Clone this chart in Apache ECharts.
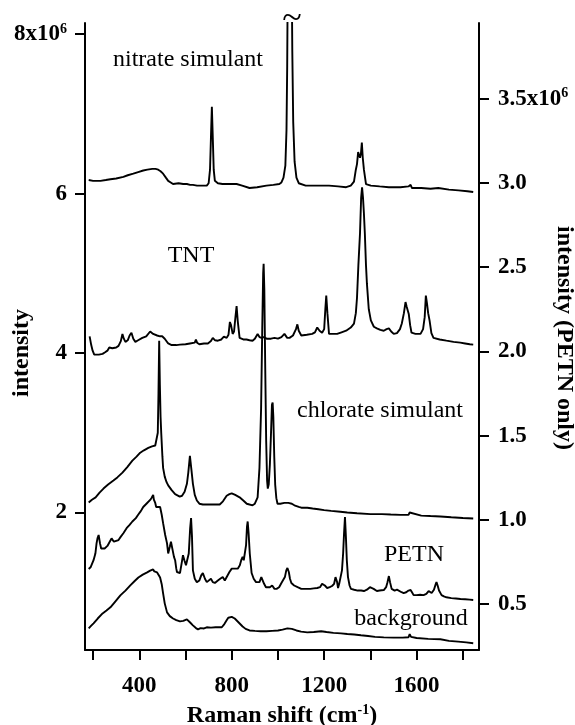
<!DOCTYPE html>
<html>
<head>
<meta charset="utf-8">
<script src="https://cdn.jsdelivr.net/npm/echarts@6/dist/echarts.min.js"></script>
<style>
html,body{margin:0;padding:0;background:#fff;}
#chart{width:575px;height:725px;}
</style>
</head>
<body>
<div id="chart"></div>
<script>
// Raman shift (cm^-1) / intensity (x10^6) pairs
const nitrate = [[181,6.17],[200,6.16],[232,6.16],[255,6.17],[275,6.18],[300,6.19],[331,6.21],[350,6.23],[374,6.25],[395,6.27],[417,6.29],[435,6.30],[456,6.31],[470,6.31],[482,6.30],[492,6.28],[503,6.25],[515,6.20],[525,6.16],[536,6.14],[546,6.12],[570,6.13],[590,6.12],[606,6.12],[620,6.11],[632,6.11],[650,6.10],[670,6.10],[692,6.10],[700,6.13],[706,6.30],[710,6.70],[714,7.09],[718,6.70],[722,6.30],[727,6.16],[740,6.13],[760,6.12],[778,6.12],[800,6.12],[821,6.12],[845,6.10],[877,6.07],[910,6.08],[950,6.10],[980,6.11],[1006,6.12],[1015,6.14],[1024,6.20],[1032,6.35],[1037,6.80],[1040,7.60],[1043,9.0],[1051,11.0],[1059,9.0],[1062,7.80],[1066,6.90],[1072,6.40],[1080,6.20],[1090,6.13],[1120,6.10],[1148,6.10],[1185,6.10],[1221,6.10],[1260,6.09],[1295,6.08],[1315,6.10],[1329,6.15],[1337,6.30],[1342,6.37],[1347,6.52],[1351,6.54],[1355,6.45],[1359,6.50],[1363,6.64],[1367,6.45],[1372,6.30],[1381,6.12],[1402,6.10],[1440,6.09],[1480,6.08],[1530,6.08],[1565,6.09],[1574,6.11],[1580,6.07],[1620,6.07],[1660,6.06],[1694,6.07],[1740,6.05],[1781,6.04],[1820,6.03],[1845,6.02]];

const tnt = [[185,4.21],[192,4.10],[198,4.03],[205,3.98],[211,3.97],[225,3.98],[241,3.99],[252,4.01],[262,4.03],[270,4.07],[275,4.08],[283,4.06],[288,4.055],[300,4.07],[310,4.09],[320,4.15],[327,4.24],[333,4.18],[340,4.14],[350,4.16],[358,4.22],[366,4.255],[374,4.18],[383,4.14],[395,4.16],[413,4.19],[430,4.21],[447,4.27],[460,4.24],[477,4.22],[490,4.21],[499,4.21],[510,4.18],[525,4.12],[540,4.10],[560,4.10],[576,4.105],[600,4.11],[619,4.12],[640,4.13],[645,4.17],[650,4.13],[660,4.11],[680,4.12],[697,4.12],[710,4.15],[718,4.19],[728,4.16],[740,4.155],[755,4.17],[766,4.206],[778,4.19],[786,4.23],[792,4.39],[797,4.35],[804,4.24],[810,4.27],[816,4.45],[821,4.59],[826,4.40],[834,4.19],[850,4.17],[864,4.17],[877,4.16],[890,4.155],[900,4.18],[912,4.24],[920,4.20],[929,4.19],[938,4.20],[951,4.18],[970,4.18],[985,4.19],[1000,4.18],[1015,4.20],[1028,4.24],[1040,4.19],[1050,4.19],[1065,4.22],[1078,4.30],[1084,4.36],[1090,4.28],[1101,4.22],[1125,4.23],[1148,4.24],[1160,4.26],[1170,4.32],[1180,4.28],[1191,4.255],[1200,4.30],[1205,4.55],[1209,4.72],[1214,4.50],[1221,4.24],[1240,4.24],[1256,4.24],[1275,4.26],[1295,4.28],[1315,4.32],[1329,4.37],[1337,4.50],[1342,4.69],[1348,5.10],[1355,5.50],[1360,5.95],[1364,6.08],[1368,5.95],[1372,5.75],[1376,5.50],[1381,5.10],[1385,4.87],[1393,4.55],[1402,4.41],[1415,4.33],[1428,4.31],[1443,4.29],[1458,4.28],[1470,4.30],[1480,4.31],[1490,4.27],[1501,4.24],[1515,4.25],[1528,4.30],[1536,4.37],[1545,4.50],[1552,4.64],[1557,4.58],[1566,4.49],[1572,4.35],[1578,4.255],[1595,4.24],[1617,4.24],[1628,4.30],[1635,4.45],[1640,4.72],[1645,4.62],[1650,4.50],[1656,4.41],[1664,4.25],[1673,4.19],[1700,4.17],[1729,4.155],[1760,4.14],[1789,4.13],[1810,4.12],[1830,4.11],[1845,4.105]];

const chlorate = [[181,2.125],[195,2.16],[211,2.19],[228,2.25],[245,2.30],[265,2.35],[288,2.40],[305,2.44],[327,2.50],[348,2.57],[370,2.65],[388,2.70],[404,2.75],[420,2.78],[439,2.81],[455,2.83],[469,2.84],[474,2.86],[477,2.86],[480,3.0],[483,3.5],[486,4.155],[489,3.6],[492,3.2],[495,2.99],[500,2.70],[503,2.56],[510,2.45],[518,2.38],[525,2.34],[540,2.28],[555,2.23],[563,2.21],[575,2.20],[585,2.21],[596,2.26],[606,2.36],[612,2.50],[619,2.71],[625,2.55],[632,2.36],[640,2.22],[649,2.15],[660,2.11],[675,2.10],[700,2.10],[725,2.10],[748,2.10],[762,2.14],[778,2.21],[790,2.23],[800,2.24],[815,2.22],[834,2.19],[850,2.15],[865,2.11],[877,2.10],[890,2.09],[900,2.11],[912,2.19],[920,2.56],[927,3.3],[932,4.3],[936,5.0],[938,5.12],[941,4.8],[945,3.8],[949,2.9],[953,2.40],[956,2.30],[960,2.35],[965,2.6],[970,3.0],[974,3.35],[977,3.38],[980,3.2],[984,2.7],[988,2.35],[993,2.18],[998,2.11],[1010,2.11],[1028,2.12],[1045,2.12],[1060,2.11],[1071,2.09],[1090,2.07],[1101,2.06],[1127,2.06],[1150,2.05],[1175,2.04],[1200,2.03],[1230,2.02],[1270,2.01],[1300,2.00],[1342,1.99],[1400,1.98],[1450,1.98],[1488,1.975],[1530,1.97],[1565,1.97],[1570,2.00],[1578,1.975],[1620,1.96],[1660,1.955],[1703,1.95],[1750,1.94],[1800,1.93],[1845,1.925]];

// PETN is plotted against the right axis
const petn = [[181,0.708],[190,0.72],[202,0.76],[210,0.80],[215,0.86],[219,0.89],[224,0.91],[230,0.86],[235,0.83],[241,0.82],[250,0.83],[262,0.845],[272,0.87],[280,0.89],[284,0.89],[290,0.87],[297,0.86],[310,0.88],[320,0.90],[331,0.92],[345,0.95],[358,0.97],[370,0.99],[385,1.01],[395,1.03],[404,1.047],[410,1.06],[417,1.076],[425,1.08],[434,1.10],[440,1.09],[447,1.118],[453,1.13],[460,1.148],[463,1.12],[465,1.118],[469,1.10],[473,1.076],[480,1.08],[490,1.076],[497,1.03],[503,0.98],[512,0.91],[520,0.86],[525,0.80],[532,0.84],[537,0.87],[542,0.86],[550,0.78],[555,0.76],[560,0.71],[563,0.69],[570,0.68],[576,0.684],[583,0.74],[589,0.79],[595,0.76],[602,0.73],[608,0.72],[614,0.80],[620,0.95],[624,1.011],[628,0.90],[632,0.70],[640,0.65],[649,0.63],[660,0.64],[668,0.67],[675,0.684],[684,0.65],[692,0.63],[700,0.64],[710,0.65],[718,0.63],[727,0.625],[740,0.64],[750,0.65],[761,0.66],[770,0.64],[778,0.65],[790,0.69],[800,0.71],[813,0.71],[826,0.71],[835,0.73],[841,0.76],[847,0.78],[852,0.76],[856,0.75],[862,0.85],[866,0.96],[869,0.99],[873,0.92],[878,0.80],[886,0.684],[895,0.65],[905,0.63],[912,0.625],[920,0.63],[928,0.66],[933,0.65],[940,0.62],[948,0.60],[955,0.595],[965,0.60],[975,0.61],[985,0.59],[994,0.59],[1005,0.60],[1015,0.625],[1030,0.66],[1036,0.70],[1041,0.714],[1047,0.69],[1052,0.65],[1058,0.625],[1070,0.61],[1085,0.60],[1101,0.59],[1120,0.59],[1140,0.59],[1155,0.593],[1170,0.595],[1182,0.60],[1191,0.62],[1196,0.63],[1203,0.61],[1213,0.595],[1224,0.60],[1234,0.607],[1243,0.62],[1249,0.66],[1252,0.666],[1256,0.63],[1260,0.595],[1265,0.62],[1271,0.66],[1277,0.70],[1282,0.80],[1286,0.92],[1290,1.017],[1294,0.90],[1298,0.76],[1303,0.66],[1310,0.61],[1316,0.59],[1330,0.585],[1345,0.58],[1360,0.58],[1372,0.577],[1385,0.585],[1398,0.60],[1406,0.607],[1414,0.59],[1428,0.577],[1440,0.58],[1458,0.583],[1468,0.60],[1474,0.63],[1480,0.666],[1485,0.63],[1492,0.59],[1505,0.58],[1515,0.585],[1523,0.583],[1535,0.57],[1544,0.565],[1555,0.57],[1565,0.58],[1574,0.583],[1580,0.57],[1587,0.553],[1600,0.553],[1615,0.555],[1630,0.553],[1642,0.56],[1652,0.577],[1658,0.57],[1665,0.565],[1675,0.585],[1682,0.615],[1686,0.63],[1691,0.61],[1697,0.58],[1708,0.553],[1718,0.545],[1729,0.54],[1750,0.535],[1770,0.533],[1790,0.53],[1810,0.528],[1830,0.526],[1845,0.524]];

const background = [[181,0.546],[192,0.58],[202,0.61],[220,0.67],[241,0.734],[258,0.77],[275,0.81],[295,0.88],[318,0.96],[340,1.02],[361,1.085],[380,1.14],[396,1.185],[415,1.22],[434,1.248],[447,1.27],[460,1.286],[465,1.26],[469,1.236],[473,1.25],[477,1.248],[483,1.22],[490,1.185],[497,1.10],[503,0.985],[510,0.86],[520,0.747],[532,0.70],[546,0.67],[560,0.65],[576,0.634],[590,0.64],[606,0.66],[620,0.62],[632,0.584],[645,0.55],[654,0.534],[665,0.55],[680,0.545],[692,0.56],[710,0.555],[730,0.56],[745,0.56],[757,0.56],[768,0.60],[778,0.647],[785,0.68],[791,0.697],[800,0.69],[813,0.67],[830,0.62],[847,0.57],[860,0.54],[877,0.52],[900,0.515],[925,0.51],[950,0.51],[975,0.515],[1000,0.52],[1020,0.53],[1041,0.546],[1060,0.54],[1080,0.52],[1100,0.505],[1127,0.496],[1155,0.50],[1187,0.51],[1210,0.50],[1240,0.49],[1273,0.484],[1300,0.475],[1330,0.47],[1359,0.46],[1390,0.45],[1420,0.44],[1458,0.434],[1500,0.43],[1540,0.43],[1565,0.435],[1570,0.475],[1576,0.44],[1600,0.425],[1650,0.415],[1703,0.41],[1740,0.39],[1780,0.38],[1815,0.37],[1845,0.36]];

const xTicks = [200,400,600,800,1000,1200,1400,1600,1800];
const xLabels = [400,800,1200,1600];
const leftTicks = [2,4,6,8];
const rightTicks = [0.5,1.0,1.5,2.0,2.5,3.0,3.5];

const serif = '"Liberation Serif","DejaVu Serif",serif';
const chart = echarts.init(document.getElementById('chart'), null, {renderer:'canvas'});

function lineSeries(name, data, axis){
  return {name, type:'line', data, yAxisIndex:axis, showSymbol:false, symbol:'none',
    clip:true, silent:true, lineStyle:{color:'#000', width:1.9}, z:3};
}
const tickLabelRich = {
  b:{fontFamily:serif, fontWeight:'bold', fontSize:23, color:'#000', lineHeight:24},
  s:{fontFamily:serif, fontWeight:'bold', fontSize:14, color:'#000', verticalAlign:'top', lineHeight:14}
};
const axisLineStyle = {color:'#000', width:2};

chart.setOption({
  animation:false,
  backgroundColor:'#fff',
  grid:{left:85, right:96, top:23, bottom:75, containLabel:false, outerBoundsMode:'none'},
  xAxis:{
    type:'value', min:165, max:1870,
    axisLine:{show:true, onZero:false, lineStyle:axisLineStyle},
    axisTick:{show:true, customValues:xTicks, length:10, lineStyle:axisLineStyle},
    axisLabel:{customValues:xLabels, formatter:v => String(v), fontFamily:serif, fontWeight:'bold', fontSize:23, color:'#000', margin:25},
    splitLine:{show:false},
    name:'{a|Raman shift (cm}{s|-1}{a|)}',
    nameLocation:'middle', nameGap:52,
    nameTextStyle:{rich:{
      a:{fontFamily:serif, fontWeight:'bold', fontSize:24, color:'#000', lineHeight:26},
      s:{fontFamily:serif, fontWeight:'bold', fontSize:14, color:'#000', verticalAlign:'top', lineHeight:14}
    }}
  },
  yAxis:[
    {type:'value', position:'left', min:0.275, max:8.14,
      axisLine:{show:true, onZero:false, lineStyle:axisLineStyle},
      axisTick:{show:true, customValues:leftTicks, length:10, lineStyle:axisLineStyle},
      axisLabel:{customValues:leftTicks, margin:18,
        formatter:v => v === 8 ? '{b|8x10}{s|6}' : '{b|' + v + '}', rich:tickLabelRich},
      splitLine:{show:false}
    },
    {type:'value', position:'right', min:0.227, max:3.95,
      axisLine:{show:true, onZero:false, lineStyle:axisLineStyle},
      axisTick:{show:true, customValues:rightTicks, length:10, lineStyle:axisLineStyle},
      axisLabel:{customValues:rightTicks, margin:19,
        formatter:v => Math.abs(v-3.5)<1e-9 ? '{b|3.5x10}{s|6}' : '{b|' + v.toFixed(1) + '}', rich:tickLabelRich},
      splitLine:{show:false}
    }
  ],
  series:[
    lineSeries('nitrate simulant', nitrate, 0),
    lineSeries('TNT', tnt, 0),
    lineSeries('chlorate simulant', chlorate, 0),
    lineSeries('PETN', petn, 1),
    lineSeries('background', background, 0)
  ],
  graphic:[
    {type:'text', x:22, y:353, rotation:Math.PI/2, style:{text:'intensity', font:'bold 24px ' + serif, fill:'#000', align:'center', verticalAlign:'middle'}},
    {type:'text', x:564, y:338, rotation:-Math.PI/2, style:{text:'intensity (PETN only)', font:'bold 24px ' + serif, fill:'#000', align:'center', verticalAlign:'middle'}},
    {type:'text', x:188, y:60, style:{text:'nitrate simulant', font:'24px ' + serif, fill:'#000', align:'center', verticalAlign:'middle'}},
    {type:'text', x:191, y:256, style:{text:'TNT', font:'24px ' + serif, fill:'#000', align:'center', verticalAlign:'middle'}},
    {type:'text', x:380, y:411, style:{text:'chlorate simulant', font:'24px ' + serif, fill:'#000', align:'center', verticalAlign:'middle'}},
    {type:'text', x:414, y:555, style:{text:'PETN', font:'24px ' + serif, fill:'#000', align:'center', verticalAlign:'middle'}},
    {type:'text', x:411, y:619, style:{text:'background', font:'24px ' + serif, fill:'#000', align:'center', verticalAlign:'middle'}},
    {type:'text', x:292, y:20, style:{text:'~', font:'36px ' + serif, fill:'#000', align:'center', verticalAlign:'middle'}}
  ]
});
</script>
</body>
</html>
